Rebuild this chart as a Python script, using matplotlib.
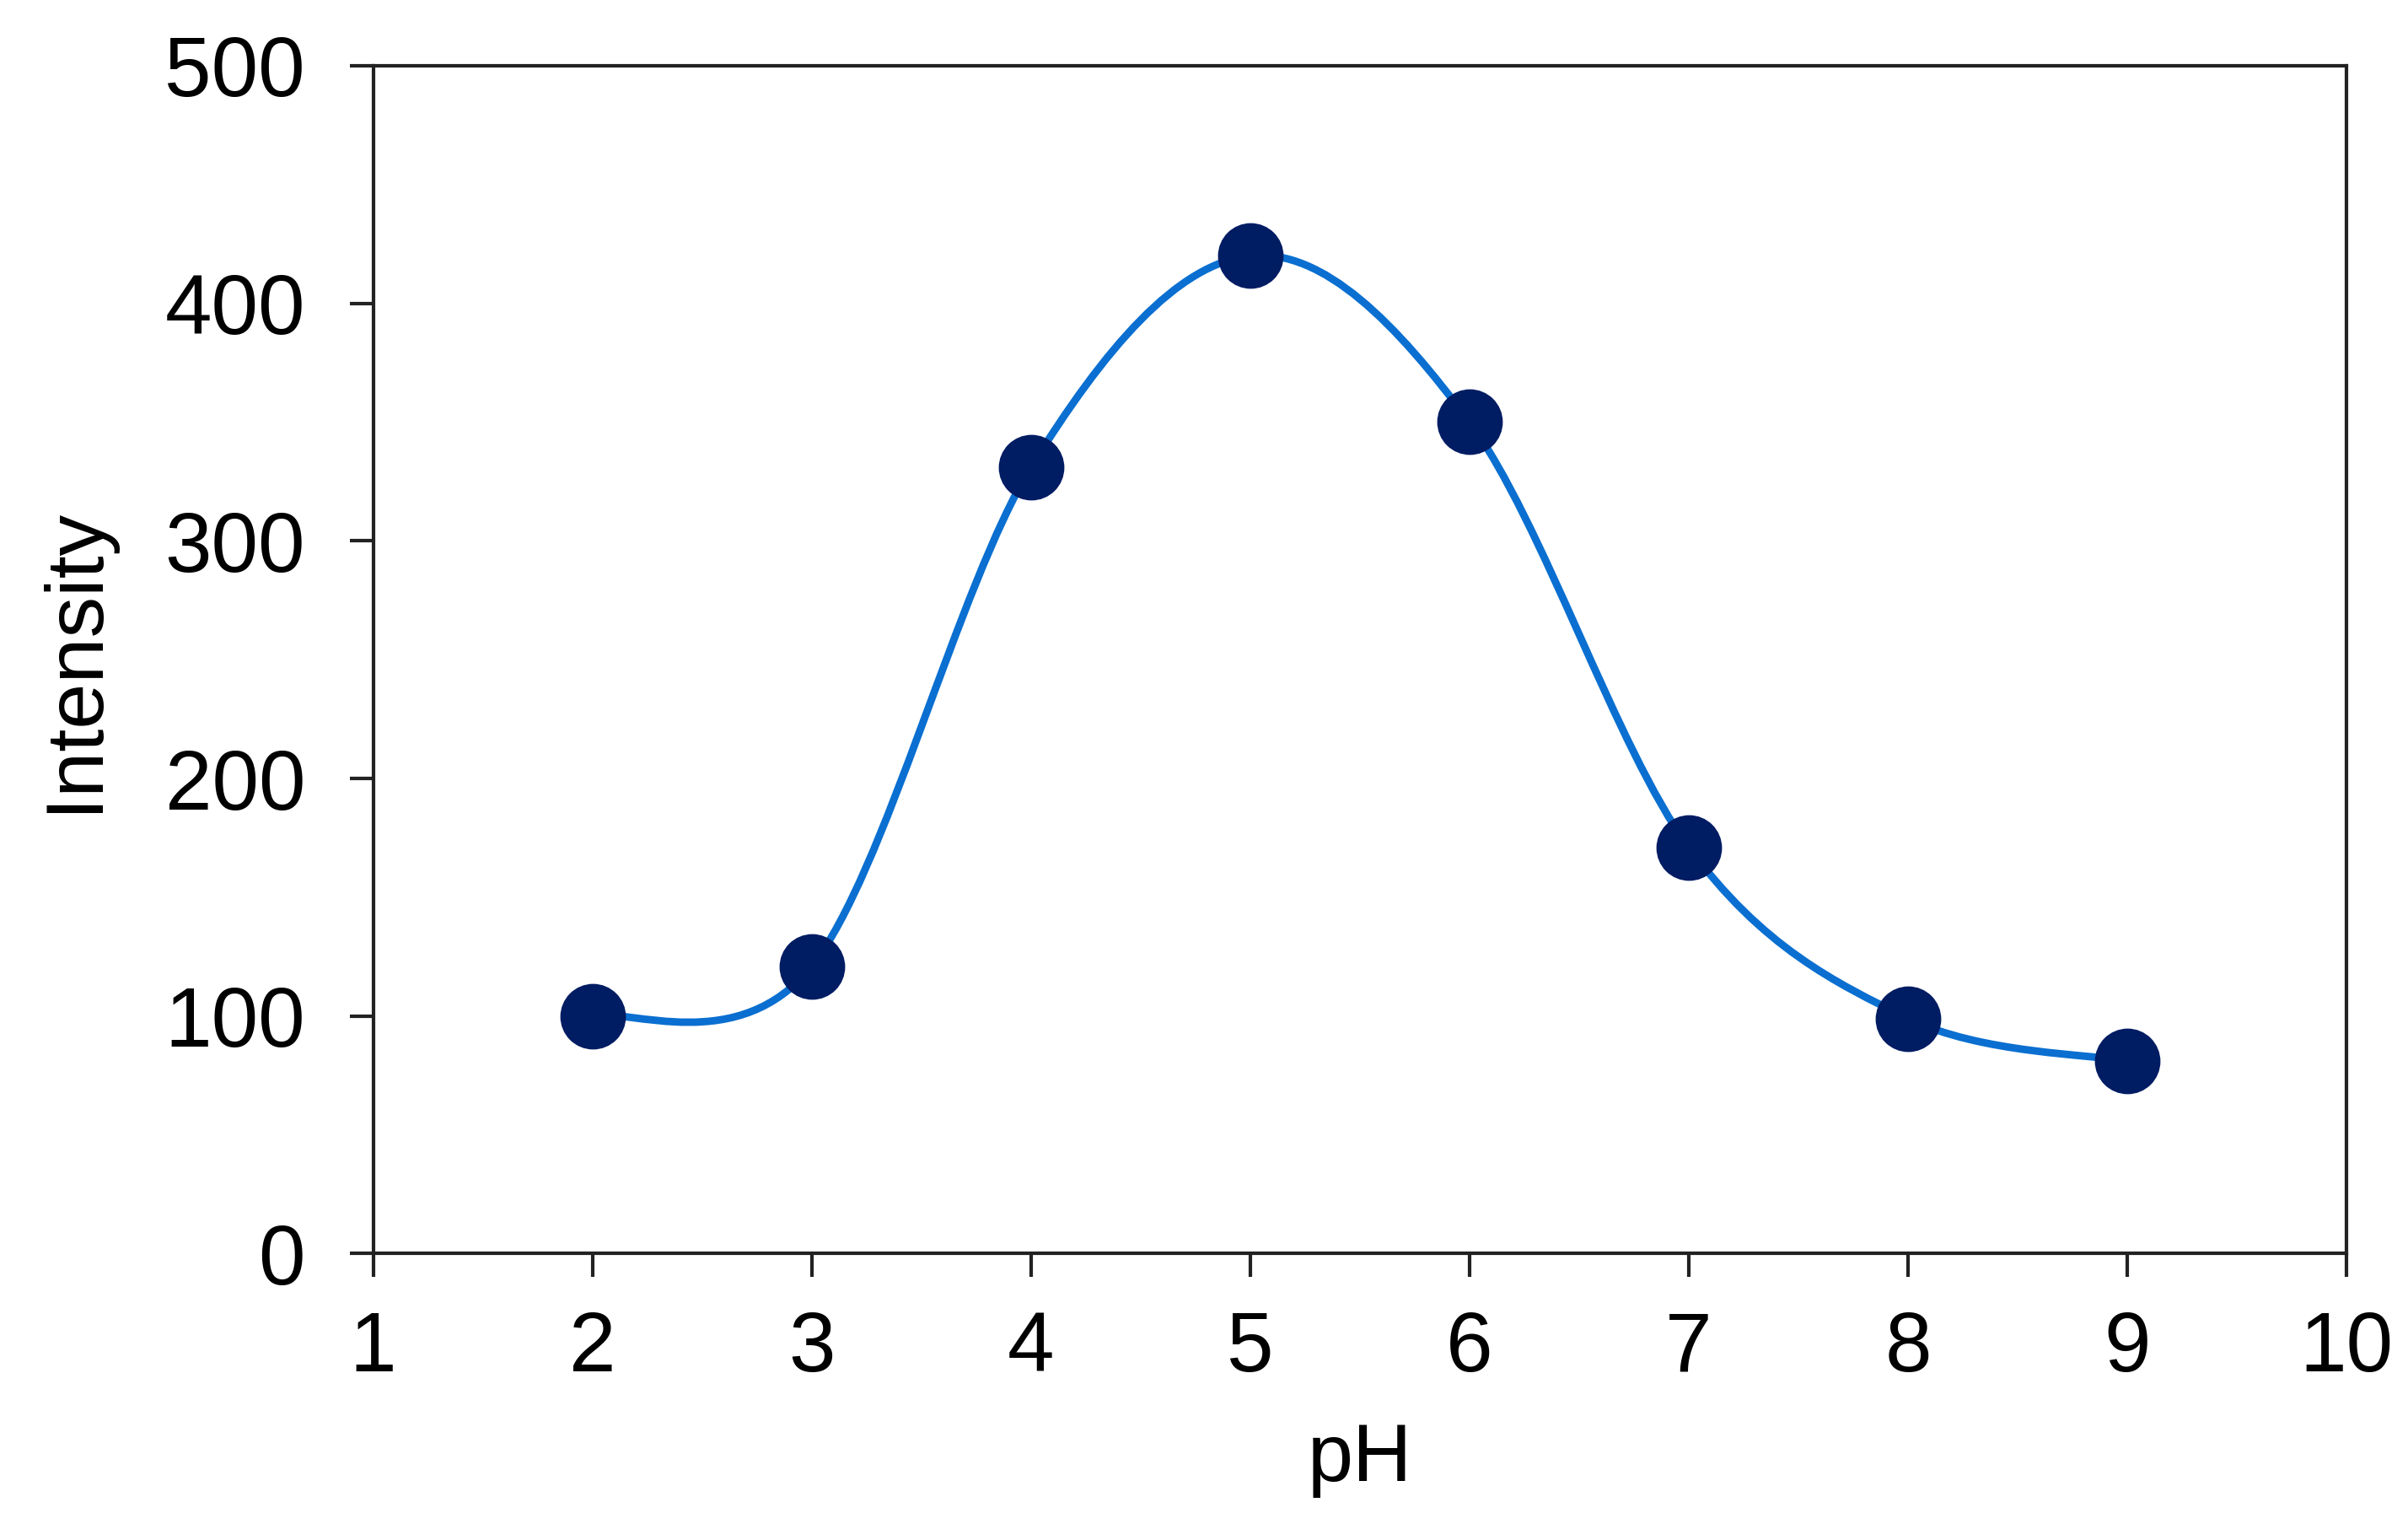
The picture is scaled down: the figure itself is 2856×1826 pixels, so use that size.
import numpy as np
import matplotlib
matplotlib.use("Agg")
import matplotlib.pyplot as plt
from matplotlib.path import Path
from matplotlib.patches import PathPatch

plt.rcParams['font.family'] = ['Liberation Sans', 'DejaVu Sans']

# --- Data
ph = [2, 3, 4, 5, 6, 7, 8, 9]
intensity = [100, 121, 331, 420, 350, 171, 99, 81]

xticks = [1, 2, 3, 4, 5, 6, 7, 8, 9, 10]
yticks = [0, 100, 200, 300, 400, 500]

line_color = '#0A6FD0'
marker_color = '#001C63'

# --- Smoothed line (Excel-style: Catmull-Rom as cubic Bezier segments)
pts = np.column_stack([ph, intensity]).astype(float)
padded = np.vstack([pts[0], pts, pts[-1]])
verts = [tuple(pts[0])]
codes = [Path.MOVETO]
for i in range(1, len(padded) - 2):
    p0, p1, p2, p3 = padded[i - 1], padded[i], padded[i + 1], padded[i + 2]
    c1 = p1 + (p2 - p0) / 6.0
    c2 = p2 - (p3 - p1) / 6.0
    verts += [tuple(c1), tuple(c2), tuple(p2)]
    codes += [Path.CURVE4] * 3

fig = plt.figure(figsize=(14.28, 9.13), dpi=200)
ax = fig.add_axes([0.155, 0.186, 0.8195, 0.7713])

ax.add_patch(PathPatch(Path(verts, codes), facecolor='none',
                       edgecolor=line_color, linewidth=3.2, zorder=2))
ax.plot(ph, intensity, 'o', color=marker_color, markersize=27, zorder=3)

ax.set_xlim(1, 10)
ax.set_ylim(0, 500)
ax.set_xticks(xticks)
ax.set_yticks(yticks)

for s in ax.spines.values():
    s.set_linewidth(1.5)
    s.set_color('#222222')

ax.tick_params(axis='both', direction='out', length=10, width=1.5,
               color='#222222', labelsize=36)
ax.tick_params(axis='y', pad=19)
ax.tick_params(axis='x', pad=14)

ax.set_xlabel('pH', fontsize=35, labelpad=14)
ax.set_ylabel('Intensity', fontsize=35, labelpad=22)

fig.savefig('out.png', dpi=200, facecolor='white')
